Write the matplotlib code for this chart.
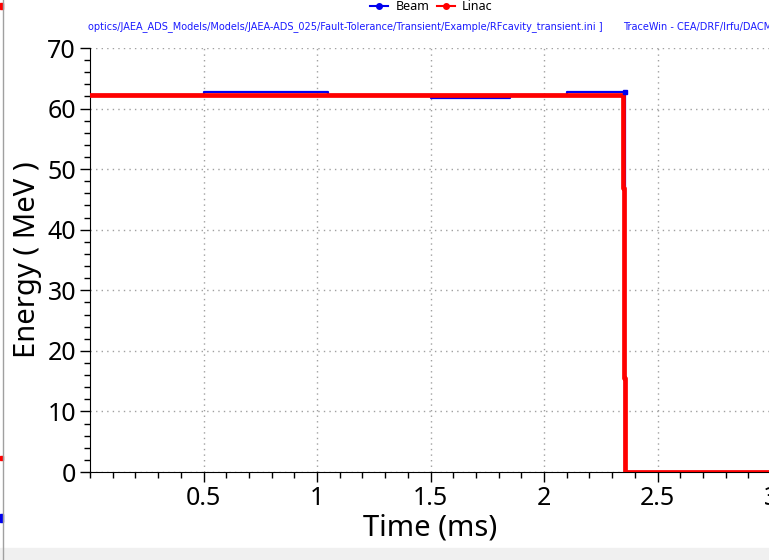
import numpy as np
import matplotlib.pyplot as plt
from matplotlib.ticker import MultipleLocator

plt.rcParams['font.family'] = ['Noto Sans', 'DejaVu Sans']

# Beam energy (blue), step-wise
beam_t = [0.0, 0.5, 0.5, 1.05, 1.05, 1.5, 1.5, 1.85, 1.85, 2.1, 2.1, 2.356, 2.356, 3.0]
beam_e = [62.3, 62.3, 62.75, 62.75, 62.3, 62.3, 61.78, 61.78, 62.3, 62.3, 62.75, 62.75, 0.0, 0.0]

# Linac energy (red)
linac_t = [0.0, 2.346, 2.346, 2.353, 2.353, 2.358, 2.358, 3.0]
linac_e = [62.3, 62.3, 46.9, 46.9, 15.5, 15.5, 0.0, 0.0]

title_left = ("optics/JAEA_ADS_Models/Models/JAEA-ADS_025/Fault-Tolerance/Transient/"
              "Example/RFcavity_transient.ini ]")
title_right = "TraceWin - CEA/DRF/Irfu/DACM"

fig = plt.figure(figsize=(7.69, 5.6), dpi=100)
ax = fig.add_axes([90/769, 88/560, 681/769, 424/560])

ax.plot(beam_t, beam_e, color='#0000ee', lw=1.6, zorder=2)
ax.plot(linac_t, linac_e, color='#ff0000', lw=3.4, zorder=3)
ax.plot([2.356], [62.75], marker='s', color='#0000ee', ms=2.5, zorder=4)

ax.set_xlim(0, 3.0)
ax.set_ylim(0, 70)
ax.xaxis.set_major_locator(MultipleLocator(0.5))
ax.xaxis.set_minor_locator(MultipleLocator(0.1))
ax.yaxis.set_major_locator(MultipleLocator(10))
ax.yaxis.set_minor_locator(MultipleLocator(2))
ax.set_xticks([0.5, 1, 1.5, 2, 2.5, 3])
ax.set_xticklabels(['0.5', '1', '1.5', '2', '2.5', '3'])
ax.grid(True, which='major', color='#a0a0a0', ls=(0, (1, 3)), lw=1.0)
ax.tick_params(which='major', direction='out', length=7, width=1, labelsize=18, pad=3)
ax.tick_params(which='minor', direction='out', length=4, width=1)
for s in ['top', 'right']:
    ax.spines[s].set_visible(False)
ax.set_xlabel('Time (ms)', fontsize=21, labelpad=2)
ax.set_ylabel('Energy ( MeV )', fontsize=21, labelpad=4)

# window bits around the plot
fig.text(88/769, 1 - 27/560, title_left, color='#1a1aff', fontsize=7.0,
         family='DejaVu Sans', va='center', ha='left')
fig.text(623/769, 1 - 27/560, title_right, color='#1a1aff', fontsize=7.0,
         family='DejaVu Sans', va='center', ha='left')
ly = 1 - 6/560
fig.add_artist(plt.Line2D([370/769, 388/769], [ly, ly], color='#0000ee', lw=1.5,
                          transform=fig.transFigure))
fig.add_artist(plt.Line2D([379/769], [ly], color='#0000ee', marker='o', ms=4,
                          transform=fig.transFigure))
fig.text(396/769, ly, 'Beam', fontsize=9, va='center')
fig.add_artist(plt.Line2D([437/769, 455/769], [ly, ly], color='#ff0000', lw=1.5,
                          transform=fig.transFigure))
fig.add_artist(plt.Line2D([446/769], [ly], color='#ff0000', marker='o', ms=4,
                          transform=fig.transFigure))
fig.text(462/769, ly, 'Linac', fontsize=9, va='center')

fig.patches.append(plt.Rectangle((0, 0), 1, 12/560, color='#f0f0f0',
                                 transform=fig.transFigure, zorder=-1))
fig.add_artist(plt.Line2D([3/769, 3/769], [0, 1], color='#a0a0a0', lw=1,
                          transform=fig.transFigure))
# stray marks at the left window edge
fig.patches.append(plt.Rectangle((0, 1 - 9/560), 3/769, 6/560, color='#ff0000',
                                 transform=fig.transFigure))
fig.patches.append(plt.Rectangle((0, 1 - 460/560), 3/769, 4/560, color='#ff0000',
                                 transform=fig.transFigure))
fig.patches.append(plt.Rectangle((0, 1 - 522/560), 3/769, 8/560, color='#0000ee',
                                 transform=fig.transFigure))

fig.savefig('out.png', dpi=100)
